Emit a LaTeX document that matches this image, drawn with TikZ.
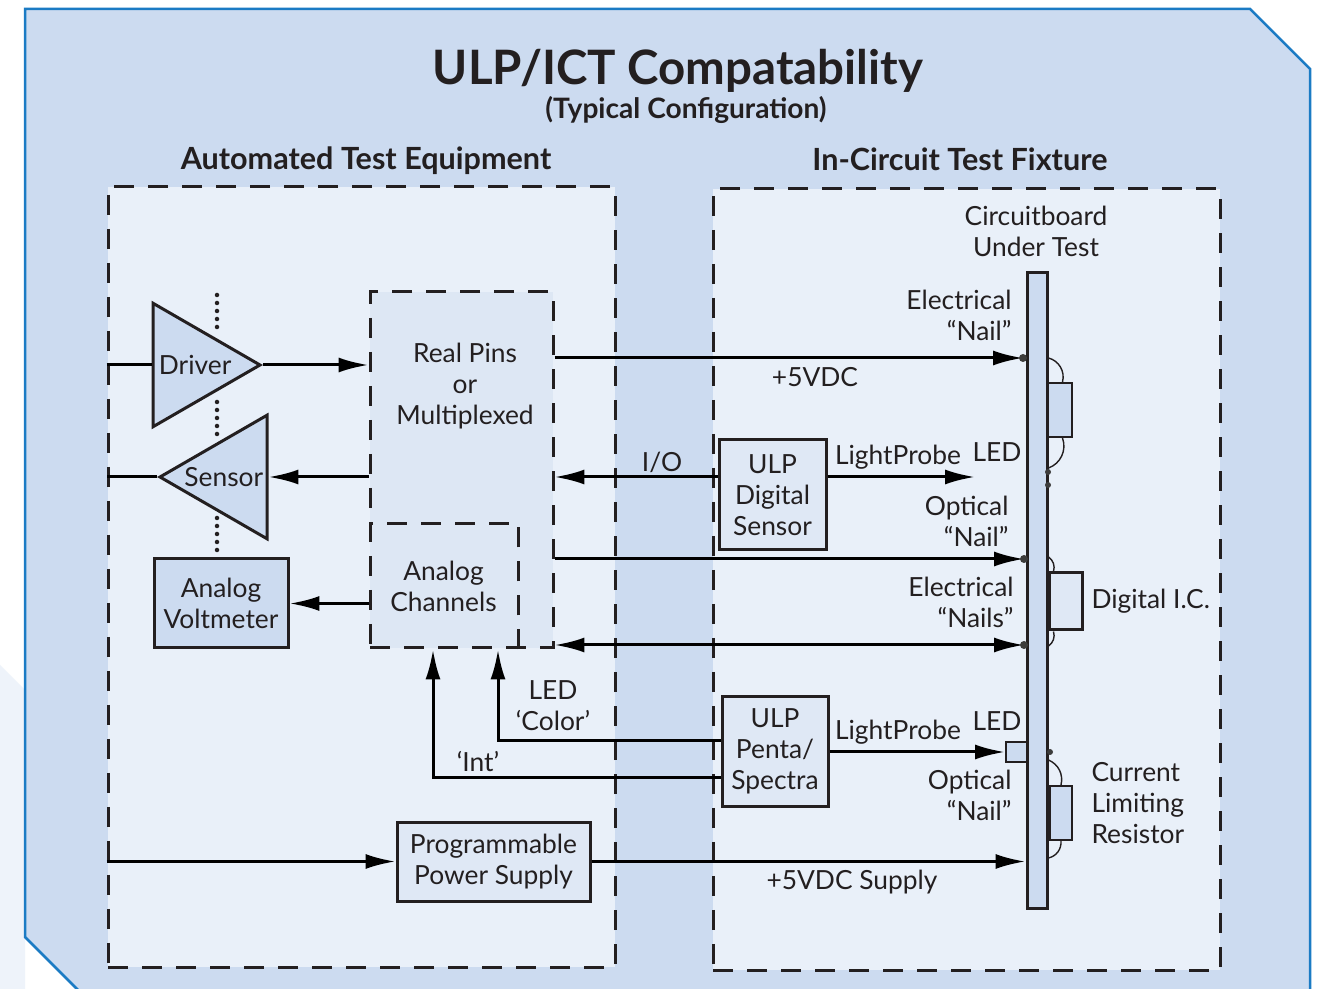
\documentclass[tikz,border=0pt]{standalone}
\usepackage{fontspec}
\setmainfont{Lato}
\usetikzlibrary{arrows.meta, shapes.geometric}

\definecolor{ink}{HTML}{231F20}
\definecolor{bgblue}{HTML}{CCDBF0}
\definecolor{edgeblue}{HTML}{1B7BC4}
\definecolor{panel}{HTML}{E9F0F9}
\definecolor{pinfill}{HTML}{DDE7F4}
\definecolor{partfill}{HTML}{CCDBF0}
\definecolor{ulpfill}{HTML}{DFE8F5}
\definecolor{faint}{HTML}{EEF3FA}
\definecolor{nailgray}{HTML}{3C3C3C}

\newlength\pxl
\setlength\pxl{0.02cm}

\begin{document}
\begin{tikzpicture}
[x=0.02cm, y=-0.02cm, line width=3\pxl,
font=\fontsize{15}{17.6}\selectfont,
>={Latex[length=17pt, width=8.5pt]},
every node/.style={inner sep=0 pt, text=ink},
dashline/.style={draw=ink, dash pattern=on 20\pxl off 14\pxl},
panelbox/.style={dashline, fill=panel},
pinbox/.style={dashline, fill=pinfill},
part/.style={draw=ink, fill=ulpfill, align=center},
amp/.style={draw=ink, fill=partfill, isosceles triangle, isosceles triangle apex angle=60, minimum height=107\pxl, minimum width=107\pxl},
chip/.style={draw=ink, fill=partfill},
lead/.style={draw=ink, line width=1.4\pxl},
dots/.style={draw=ink, line width=4.5\pxl, line cap=round, dash pattern=on 0pt off 8\pxl},
lbl/.style={align=center},
hdg/.style={anchor=base, font=\fontsize{17.4}{20}\selectfont\bfseries}
]

\useasboundingbox (0,0) rectangle (1326,989);
\clip (0,0) rectangle (1326,989);

% backdrop
\fill[white] (0,0) rectangle (1326,989);
\fill[faint] (0,665) -- (25,690) -- (25,989) -- (0,989) -- cycle;
\filldraw[fill=bgblue, draw=edgeblue, line width=2.5\pxl]
(25,9) -- (1250,9) -- (1310,69) -- (1310,1010) -- (98,1010) -- (25,937) -- cycle;

\path
coordinate (ledA) at (975,477)
coordinate (colX) at (498,0)
coordinate (intX) at (433,0)
coordinate (colY) at (0,741)
coordinate (intY) at (0,777)
coordinate (nl1) at (1023,358)
coordinate (nl2) at (1024,559)
coordinate (nl3) at (1024,645)
;

% titles
\node[anchor=base, font=\fontsize{27}{32}\selectfont\bfseries] (title) at (678,85) {ULP/ICT Compatability};
\node[anchor=base, font=\fontsize{16}{19}\selectfont\bfseries] (sub) at (686,119) {(Typical Configuration)};

% panels
\node[panelbox, minimum width=507\pxl, minimum height=780\pxl] (ate) at (361.5,577) {};
\node[panelbox, minimum width=507\pxl, minimum height=781\pxl] (ict) at (966.5,579.5) {};
\node[hdg] (ateT) at (366,170) {Automated Test Equipment};
\node[hdg] (ictT) at (960,171) {In-Circuit Test Fixture};

% test equipment blocks
\node[pinbox, minimum width=183\pxl, minimum height=356\pxl] (pins) at (461.5,470) {};
\node[lbl] (pinsT) at (465,386) {Real Pins\\or\\Multiplexed};
\node[lbl, minimum width=147\pxl, minimum height=123\pxl] (anch) at (443.5,586.5) {Analog\\Channels};
\draw[dashline] (anch.south east) -- (anch.north east) -- (anch.north west);

\node[amp, anchor=apex] (drv) at (263,365) {Driver};
\node[amp, shape border rotate=180, anchor=apex] (sen) at (157,477) {Sensor};
\node[part, fill=partfill, minimum width=134\pxl, minimum height=89\pxl] (volt) at (221,603.5) {Analog\\Voltmeter};
\node[part, minimum width=193\pxl, minimum height=79\pxl] (pps) at (493.5,861.5) {Programmable\\Power Supply};

\draw[dots] (217,295) -- (217,331);
\draw[dots] (217,402) -- (217,434);
\draw[dots] (217,518) -- (217,554);

% fixture blocks
\node[part, minimum width=107\pxl, minimum height=110\pxl] (dsen) at (772.5,495) {ULP\\Digital\\Sensor};
\node[part, minimum width=106\pxl, minimum height=109\pxl] (pen) at (775,751.5) {ULP\\Penta/\\Spectra};
\node[chip, minimum width=20\pxl, minimum height=635\pxl] (board) at (1037,590.5) {};
\node[chip, line width=2\pxl, minimum width=24\pxl, minimum height=54\pxl] (res1) at (1059.5,410) {};
\node[chip, fill=ulpfill, minimum width=33\pxl, minimum height=57\pxl] (ic) at (1065.5,601.5) {};
\node[chip, line width=2\pxl, minimum width=22\pxl, minimum height=54\pxl] (res2) at (1061,813) {};
\node[chip, line width=2\pxl, minimum width=21\pxl, minimum height=20\pxl] (led) at (1016.5,752) {};

% component leads
\draw[lead] (board.east |- nl1) to[bend left=45] ([xshift=3\pxl]res1.north);
\draw[lead] ([xshift=3\pxl]res1.south) to[bend left=45] (board.east |- 0,468);
\draw[lead] (board.east |- 0,557) to[bend left=35] ([xshift=6\pxl]ic.north west);
\draw[lead] ([xshift=6\pxl]ic.south west) to[bend left=35] (board.east |- 0,646);
\draw[lead] (board.east |- 0,760) to[bend left=40] (res2.north);
\draw[lead] (res2.south) to[bend left=40] (board.east |- 0,858);

% wiring
\draw (ate.west |- drv.lower side) -- (drv.lower side);
\draw (sen.apex) -- (ate.west |- sen.apex);
\begin{scope}[->]
\draw (drv.apex) -- (drv.apex -| pins.west);
\draw (pins.west |- sen.lower side) -- (sen.lower side);
\draw (anch.west |- volt.east) -- (volt.east);
\draw (pins.east |- nl1) -- (nl1);
\draw (dsen.west |- sen.lower side) -- (pins.east |- sen.lower side);
\draw (dsen.east |- sen.lower side) -- (ledA);
\draw (pins.east |- nl2) -- (nl2);
\draw (colY -| pen.west) -| (colX |- anch.south);
\draw (intY -| pen.west) -| (intX |- anch.south);
\draw (pen.east |- led.west) -- (led.west);
\draw (ate.west |- pps.west) -- (pps.west);
\draw (pps.east) -- (pps.east -| board.west);
\end{scope}
\draw[<->] (pins.east |- nl3) -- (nl3);

% nails
\foreach \n in {nl1,nl2,nl3} {\fill[nailgray] (\n) circle (4);}
\fill[nailgray] (1048,472) circle (3) (1048,485) circle (3) (1050,752) circle (3);

% labels
\node[lbl] (io) at (662,462) {I/O};
\node[lbl] (v5) at (815,377) {+5VDC};
\node[lbl] (lp1) at (898,457) {LightProbe};
\node[lbl] (led1) at (997,452) {LED};
\node[align=right, anchor=east] (on1) at (1010,521) {Optical\\“Nail”};
\node[align=right, anchor=east] (en1) at (1013,315) {Electrical\\“Nail”};
\node[lbl] (cb) at (1036,231) {Circuitboard\\Under Test};
\node[align=right, anchor=east] (en2) at (1015,602) {Electrical\\“Nails”};
\node[anchor=west] (dic) at (1090,601) {Digital I.C.};
\node[lbl] (col) at (553,706) {LED\\‘Color’};
\node[lbl] (int) at (478,762) {‘Int’};
\node[lbl] (lp2) at (898,732) {LightProbe};
\node[lbl] (led2) at (997,721) {LED};
\node[align=right, anchor=east] (on2) at (1013,795) {Optical\\“Nail”};
\node[align=left, anchor=west] (clr) at (1090,803) {Current\\Limiting\\Resistor};
\node[lbl] (sup) at (852,882) {+5VDC Supply};

\end{tikzpicture}
\end{document}
